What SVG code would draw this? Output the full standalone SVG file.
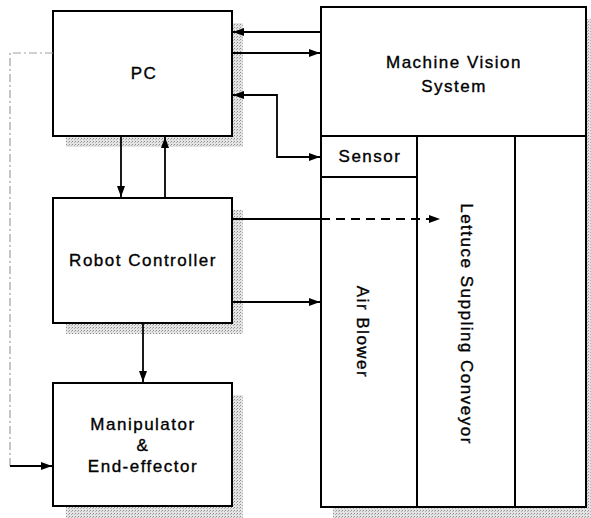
<svg xmlns="http://www.w3.org/2000/svg" width="591" height="518" viewBox="0 0 591 518">
<style>
.box{fill:#fff;stroke:#000;stroke-width:2}
.sh{fill:url(#stip);stroke:none}
.lbl{font-family:"Liberation Sans",Arial,sans-serif;font-size:17px;letter-spacing:1.5px;fill:#000;stroke:#000;stroke-width:0.35;text-anchor:middle}
.c{fill:none;stroke:#000;stroke-width:1.8}
.dash{stroke-dasharray:9,6}
.gray{fill:none;stroke:#a0a0a0;stroke-width:1.2;stroke-dasharray:8,3,2,3}
</style>
<defs>
<pattern id="stip" width="3" height="3" patternUnits="userSpaceOnUse">
<rect width="3" height="3" fill="#e4e4e4"/>
<rect x="0" y="0" width="1" height="1" fill="#8c8c8c"/>
<rect x="2" y="1" width="1" height="1" fill="#b0b0b0"/>
</pattern>
<marker id="ah" viewBox="0 0 11 8" refX="11" refY="4" markerWidth="11" markerHeight="8" markerUnits="userSpaceOnUse" orient="auto-start-reverse">
<path d="M0,0 L11,4 L0,8 z" fill="#000"/>
</marker>
</defs>

<g id="shadows">
<rect class="sh" x="66" y="23" width="177" height="124"/>
<rect class="sh" x="66" y="210" width="177" height="124"/>
<rect class="sh" x="66" y="395" width="177" height="123"/>
<rect class="sh" x="333" y="19" width="258" height="499"/>
</g>

<g id="pc">
<rect class="box" x="53" y="11" width="179" height="125"/>
<text class="lbl" x="144" y="79">PC</text>
</g>

<g id="robot-controller">
<rect class="box" x="53" y="198" width="179" height="125"/>
<text class="lbl" x="143" y="266">Robot Controller</text>
</g>

<g id="manipulator">
<rect class="box" x="53" y="383" width="179" height="123"/>
<text class="lbl" x="143" y="430">Manipulator</text>
<text class="lbl" x="143" y="451">&amp;</text>
<text class="lbl" x="143" y="472">End-effector</text>
</g>

<g id="machine-vision">
<rect class="box" x="321" y="7" width="265" height="129"/>
<text class="lbl" x="454" y="68">Machine Vision</text>
<text class="lbl" x="454" y="92">System</text>
</g>

<g id="sensor">
<rect class="box" x="321" y="136" width="96" height="41"/>
<text class="lbl" x="370" y="162">Sensor</text>
</g>

<g id="air-blower">
<rect class="box" x="321" y="177" width="96" height="330"/>
<text class="lbl" transform="translate(357,332) rotate(90)">Air Blower</text>
</g>

<g id="conveyor">
<rect class="box" x="417" y="136" width="98" height="371"/>
<text class="lbl" transform="translate(461,324) rotate(90)">Lettuce Suppling Conveyor</text>
</g>

<g id="right-lane">
<rect class="box" x="515" y="136" width="71" height="371"/>
</g>

<g id="connectors">
<line class="c" x1="321" y1="32" x2="233" y2="32" marker-end="url(#ah)"/>
<line class="c" x1="232" y1="53" x2="320" y2="53" marker-end="url(#ah)"/>
<path class="c" d="M233,95 L277,95 L277,157 L320,157" marker-start="url(#ah)" marker-end="url(#ah)"/>
<line class="c" x1="121" y1="136" x2="121" y2="197" marker-end="url(#ah)"/>
<line class="c" x1="165" y1="198" x2="165" y2="137" marker-end="url(#ah)"/>
<line class="c" x1="232" y1="219" x2="321" y2="219"/>
<line class="c dash" x1="321" y1="219" x2="440" y2="219" marker-end="url(#ah)"/>
<line class="c" x1="232" y1="302" x2="320" y2="302" marker-end="url(#ah)"/>
<line class="c" x1="143" y1="323" x2="143" y2="382" marker-end="url(#ah)"/>
<path class="gray" d="M53,53 L10,53 L10,466"/>
<line class="c" x1="10" y1="466" x2="52" y2="466" marker-end="url(#ah)"/>
</g>
</svg>
